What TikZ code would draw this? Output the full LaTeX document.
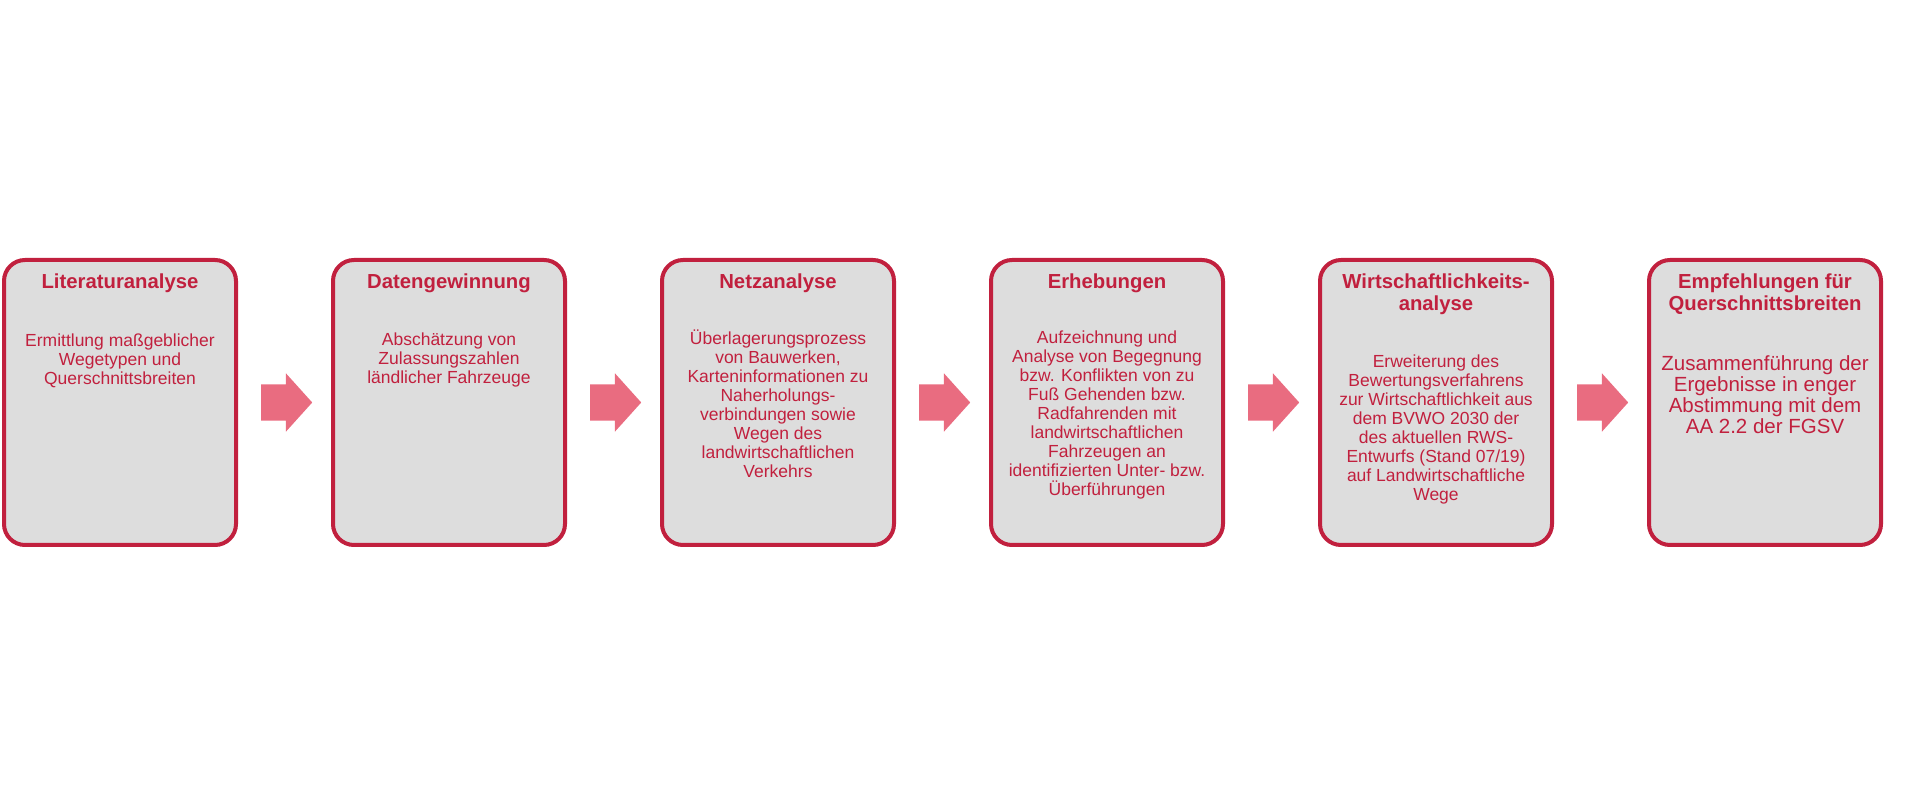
\documentclass[tikz,border=0pt]{standalone}
\usepackage{fontspec}
\setmainfont{Liberation Sans}
\usetikzlibrary{positioning,shapes.arrows}

\definecolor{wegrot}{RGB}{193,32,62}
\definecolor{weggrau}{RGB}{221,221,221}
\definecolor{wegrosa}{RGB}{233,108,128}

\begin{document}
\begin{tikzpicture}[
    x=1pt, y=1pt,
    node distance=93pt,
    every node/.style={align=center, text=wegrot},
    stage/.style={rounded corners=21pt, draw=wegrot, line width=4pt, fill=weggrau, minimum width=232pt, minimum height=285pt},
    head/.style={inner sep=0pt, font=\fontsize{20.3pt}{22pt}\selectfont\bfseries},
    body/.style={inner sep=0pt, font=\fontsize{17.5pt}{19pt}\selectfont},
    bigbody/.style={body, font=\fontsize{20.5pt}{21pt}\selectfont},
    blockarrow/.style={single arrow, fill=wegrosa, inner xsep=0pt, inner ysep=18pt, minimum height=51pt, single arrow head extend=11pt, single arrow tip angle=96}
  ]
    \useasboundingbox (0,0) rectangle (1920,804);

    % Stages in a row
    \node[stage] (lit) at (120,401.5) {};
    \node[stage, right=of lit] (daten) {};
    \node[stage, right=of daten] (netz) {};
    \node[stage, right=of netz] (erheb) {};
    \node[stage, right=of erheb] (wirt) {};
    \node[stage, right=of wirt] (empf) {};

    % Titles
    \node[head, below=15.5pt of lit.north] (litT) {Literaturanalyse};
    \node[head, below=15.5pt of daten.north] (datenT) {Datengewinnung};
    \node[head, below=15.5pt of netz.north] (netzT) {Netzanalyse};
    \node[head, below=15.5pt of erheb.north] (erhebT) {Erhebungen};
    \node[head, below=15.5pt of wirt.north] (wirtT) {Wirtschaftlichkeits-\\analyse};
    \node[head, below=15.5pt of empf.north] (empfT) {Empfehlungen für\\Querschnittsbreiten};

    % Descriptions
    \node[body, below=75.5pt of lit.north] (litB) {Ermittlung maßgeblicher\\Wegetypen und\\Querschnittsbreiten};
    \node[body, below=74.5pt of daten.north] (datenB) {Abschätzung von\\Zulassungszahlen\\ländlicher Fahrzeuge};
    \node[body, below=71.5pt of netz.north] (netzB) {Überlagerungsprozess\\von Bauwerken,\\Karteninformationen zu\\Naherholungs-\\verbindungen sowie\\Wegen des\\landwirtschaftlichen\\Verkehrs};
    \node[body, below=72.5pt of erheb.north] (erhebB) {Aufzeichnung und\\Analyse von Begegnung\\bzw. Konflikten von zu\\Fuß Gehenden bzw.\\Radfahrenden mit\\landwirtschaftlichen\\Fahrzeugen an\\identifizierten Unter- bzw.\\Überführungen};
    \node[body, below=96.5pt of wirt.north] (wirtB) {Erweiterung des\\Bewertungsverfahrens\\zur Wirtschaftlichkeit aus\\dem BVWO 2030 der\\des aktuellen RWS-\\Entwurfs (Stand 07/19)\\auf Landwirtschaftliche\\Wege};
    \node[bigbody, below=97pt of empf.north] (empfB) {Zusammenführung der\\Ergebnisse in enger\\Abstimmung mit dem\\AA 2.2 der FGSV};

    % Arrows between stages
    \node[blockarrow, right=23pt of lit] (pfeil1) {};
    \node[blockarrow, right=23pt of daten] (pfeil2) {};
    \node[blockarrow, right=23pt of netz] (pfeil3) {};
    \node[blockarrow, right=23pt of erheb] (pfeil4) {};
    \node[blockarrow, right=23pt of wirt] (pfeil5) {};

  \end{tikzpicture}
\end{document}
